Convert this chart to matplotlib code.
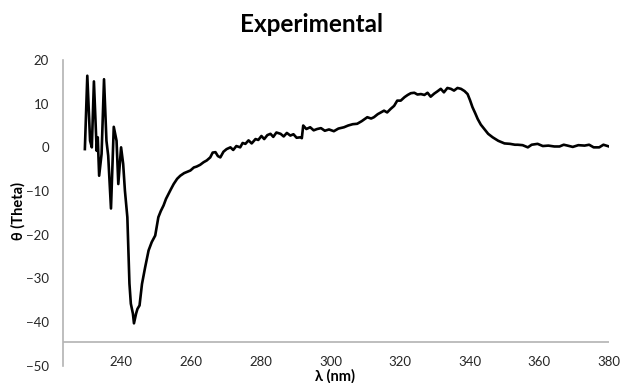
import matplotlib
matplotlib.use("Agg")
import matplotlib.pyplot as plt

plt.rcParams['font.family'] = ['Lato', 'DejaVu Sans']

# wavelength (nm) and ellipticity values
wavelength = [
    229.5, 230.2, 231.0, 231.5, 232.1, 232.9, 233.2, 233.6, 234.3, 235.0,
    235.7, 236.2, 237.0, 237.8, 238.6, 239.1, 239.9, 240.5, 241.0, 241.7,
    242.0, 242.3, 242.7, 243.3, 243.6, 244.2, 244.6, 245.2, 245.9, 246.8,
    247.8, 248.7, 249.7, 250.6, 251.3, 252.1, 252.8, 253.5, 254.2, 255.0,
    256.0, 256.9, 258.0, 259.8, 260.8, 261.6, 262.6, 263.6, 264.5, 265.5,
    266.2, 267.0, 267.7, 268.4, 269.3, 270.2, 271.3, 272.1, 273.0, 274.1,
    274.8, 275.6, 276.5, 277.4, 278.5, 279.3, 280.2, 281.0, 281.9, 282.8,
    283.6, 284.5, 285.7, 286.6, 287.5, 288.5, 289.4, 290.3, 291.4, 291.8,
    292.2, 293.1, 294.2, 295.2, 296.2, 297.3, 298.4, 299.6, 301.0, 302.3,
    303.9, 305.1, 306.4, 307.7, 309.0, 310.6, 311.7, 312.5, 313.6, 315.4,
    316.3, 317.3, 318.3, 319.2, 320.2, 321.3, 322.2, 323.1, 324.1, 325.0,
    326.0, 327.0, 327.9, 328.8, 329.8, 330.7, 331.7, 332.6, 333.6, 334.6,
    335.5, 336.5, 337.5, 338.5, 339.4, 340.1, 340.8, 341.6, 342.3, 343.2,
    344.2, 345.3, 346.6, 348.2, 350.0, 351.6, 353.0, 353.8, 355.2, 356.7,
    357.8, 359.5, 361.0, 362.6, 364.3, 365.8, 367.0, 368.1, 369.6, 371.2,
    373.0, 374.3, 375.6, 377.2, 378.4, 380.0,
]
theta = [
    -0.4, 16.4, 1.5, 0.0, 15.1, -0.8, 2.3, -6.5, -1.5, 15.6,
    1.5, -1.9, -14.0, 4.7, 1.5, -8.4, 0.0, -3.8, -9.9, -16.0,
    -23.6, -31.2, -35.8, -38.1, -40.3, -38.1, -37.0, -36.2, -31.3, -27.5,
    -23.6, -21.7, -20.2, -16.0, -14.6, -13.3, -11.8, -10.7, -9.6, -8.4,
    -7.2, -6.5, -5.9, -5.3, -4.6, -4.4, -4.0, -3.4, -3.0, -2.3,
    -1.2, -1.1, -2.0, -2.3, -1.0, -0.4, 0.0, -0.6, 0.3, 0.0,
    1.0, 0.8, 1.6, 0.9, 1.9, 1.7, 2.6, 1.9, 2.8, 3.1,
    2.4, 3.4, 3.1, 2.5, 3.3, 2.7, 3.0, 2.2, 2.3, 2.1,
    5.0, 4.2, 4.6, 3.9, 4.2, 4.4, 3.8, 4.1, 3.7, 4.3,
    4.6, 5.0, 5.3, 5.4, 6.0, 6.9, 6.6, 6.9, 7.6, 8.4,
    8.0, 8.8, 9.5, 10.7, 10.7, 11.5, 12.0, 12.4, 12.5, 12.1,
    12.2, 12.0, 12.5, 11.6, 12.3, 12.8, 13.4, 12.6, 13.6, 13.4,
    13.0, 13.6, 13.4, 12.9, 12.2, 10.8, 9.2, 7.8, 6.5, 5.2,
    4.2, 3.1, 2.3, 1.5, 0.9, 0.8, 0.6, 0.6, 0.5, 0.0,
    0.6, 0.8, 0.3, 0.4, 0.2, 0.2, 0.6, 0.4, 0.1, 0.5,
    0.4, 0.6, 0.0, 0.0, 0.6, 0.2,
]

x_ticks = [240, 260, 280, 300, 320, 340, 360, 380]
y_ticks = [-50, -40, -30, -20, -10, 0, 10, 20]

fig = plt.figure(figsize=(6.23, 3.83), dpi=100)
ax = fig.add_axes([0.101, 0.0452, 0.8765, 0.7981])

ax.plot(wavelength, theta, color='black', linewidth=1.9)

# horizontal axis line crosses the value axis near -44.6, like the excel chart
ax.axhline(-44.6, color='#b3b3b3', linewidth=1.2)

ax.set_xlim(223.2, 380)
ax.set_ylim(-50, 20)
ax.set_xticks(x_ticks)
ax.set_yticks(y_ticks)

for side in ['top', 'right', 'bottom']:
    ax.spines[side].set_visible(False)
ax.spines['left'].set_color('#b3b3b3')
ax.spines['left'].set_linewidth(1.2)

ax.tick_params(axis='both', length=0, labelsize=9.5, colors='#262626')
ax.tick_params(axis='y', pad=10)
ax.tick_params(axis='x', pad=-7)

fig.text(0.5, 0.937, 'Experimental', ha='center', va='center',
         fontsize=17.5, fontweight='bold', color='black')
fig.text(0.029, 0.45, 'θ (Theta)', ha='center', va='center', rotation=90,
         fontsize=10.5, fontweight='bold', color='black')
fig.text(0.538, 0.017, 'λ (nm)', ha='center', va='center',
         fontsize=10.5, fontweight='bold', color='black')

fig.savefig('out.png', dpi=100)
